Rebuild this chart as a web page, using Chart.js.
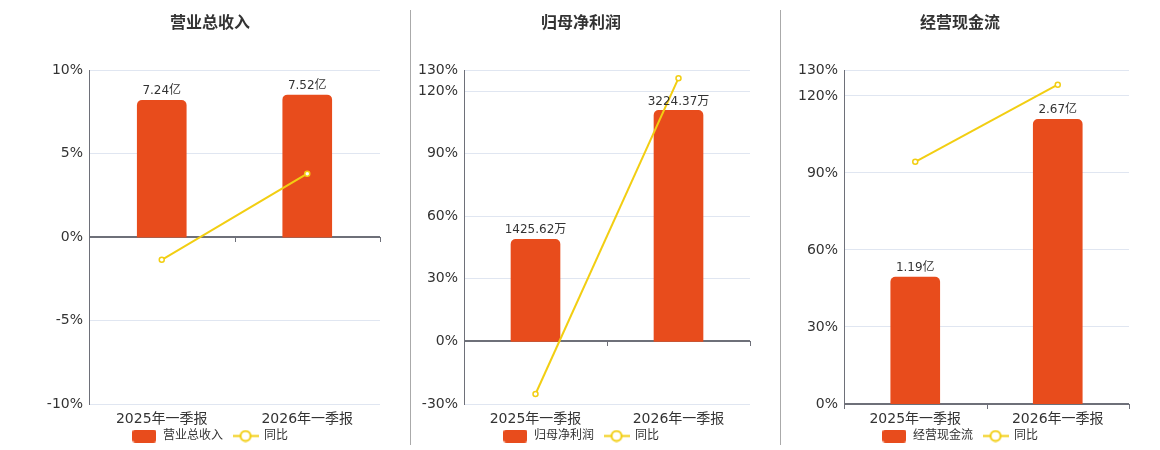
<!DOCTYPE html>
<html><head><meta charset="utf-8">
<script src="https://cdn.jsdelivr.net/npm/chart.js@4.4.0/dist/chart.umd.min.js"></script>
<style>
html,body{margin:0;padding:0;width:1160px;height:450px;overflow:hidden;background:#fff;}
canvas{position:absolute;top:0;}
.sep{position:absolute;top:10px;width:1px;height:435px;background:#aaa;}
</style></head><body>
<canvas id="c1" width="420" height="462" style="left:0px;width:420px;height:462px"></canvas>
<canvas id="c2" width="348" height="462" style="left:412px;width:348px;height:462px"></canvas>
<canvas id="c3" width="358" height="462" style="left:781px;width:358px;height:462px"></canvas>
<div class="sep" style="left:410px"></div>
<div class="sep" style="left:780px"></div>
<script>
const categories = ['2025年一季报', '2026年一季报'];

const revenueValues = [7.24, 7.52];          // 亿
const revenueLabels = ['7.24亿', '7.52亿'];
const revenueYoY = [-1.36, 3.8];             // %
const revenueTicks = [-10, -5, 0, 5, 10];

const profitValues = [1425.62, 3224.37];     // 万
const profitLabels = ['1425.62万', '3224.37万'];
const profitYoY = [-25.2, 126.17];
const profitTicks = [-30, 0, 30, 60, 90, 120, 130];

const cashValues = [1.19, 2.67];             // 亿
const cashLabels = ['1.19亿', '2.67亿'];
const cashYoY = [94.3, 124.37];
const cashTicks = [0, 30, 60, 90, 120, 130];

const FONT = '"DejaVu Sans", "Noto Sans CJK SC", sans-serif';
const BAR = '#E84C1C';
const LINE = '#F2CE12';
const AXIS = '#6E7079';
const GRID = '#E0E6F1';
const TEXT = '#333333';
Chart.defaults.font.family = FONT;

function barIcon() {
  const c = document.createElement('canvas'); c.width = 24; c.height = 13;
  const x = c.getContext('2d'); x.fillStyle = BAR;
  x.beginPath(); x.roundRect(0, 0, 24, 13, 3); x.fill();
  return c;
}
function lineIcon() {
  const c = document.createElement('canvas'); c.width = 26; c.height = 13;
  const x = c.getContext('2d');
  x.strokeStyle = LINE; x.lineWidth = 2;
  x.beginPath(); x.moveTo(0, 6.5); x.lineTo(26, 6.5); x.stroke();
  x.beginPath(); x.arc(13, 6.5, 5, 0, Math.PI * 2); x.fillStyle = '#fff'; x.fill(); x.stroke();
  return c;
}
const ICON_BAR = barIcon(), ICON_LINE = lineIcon();

const extrasPlugin = {
  id: 'extras',
  afterLayout(chart) {
    // place legend row so its items are centred at y = 436
    const lg = chart.legend;
    const h = lg.bottom - lg.top;
    lg.top = 420; lg.bottom = 420 + h;
  },
  afterDatasetsDraw(chart) {
    const ctx = chart.ctx;
    const meta = chart.getDatasetMeta(0);
    const labels = chart.data.datasets[0].valueLabels;
    ctx.save();
    ctx.font = '12px ' + FONT;
    ctx.fillStyle = TEXT;
    ctx.textAlign = 'center';
    ctx.textBaseline = 'bottom';
    meta.data.forEach((el, i) => {
      ctx.fillText(labels[i], el.x, el.y - 3);
    });
    const ys = chart.scales.y;
    const y0 = Math.round(ys.getPixelForValue(0));
    const ca = chart.chartArea;
    const n = chart.data.labels.length;
    ctx.strokeStyle = AXIS; ctx.lineWidth = 1;
    for (let i = 0; i <= n; i++) {
      const px = Math.round(ca.left + (ca.right - ca.left) * i / n) + 0.5;
      ctx.beginPath(); ctx.moveTo(px, y0); ctx.lineTo(px, y0 + 5); ctx.stroke();
    }
    ctx.restore();
  }
};

function makeChart(id, title, barName, values, valueLabels, yoy, ticks, barMin, barMax, yW, padLeft, padRight) {
  new Chart(document.getElementById(id), {
    data: {
      labels: categories,
      datasets: [
        {
          type: 'bar', label: barName, data: values, valueLabels: valueLabels,
          yAxisID: 'y1', backgroundColor: BAR, barThickness: 49,
          borderRadius: 5, borderSkipped: 'start', order: 2
        },
        {
          type: 'line', label: '同比', data: yoy, yAxisID: 'y',
          borderColor: LINE, borderWidth: 2, pointRadius: 2.5, pointBorderWidth: 1.5,
          pointBackgroundColor: '#fff', pointBorderColor: LINE, order: 1, tension: 0
        }
      ]
    },
    options: {
      responsive: false, animation: false, devicePixelRatio: 1,
      layout: { padding: { left: padLeft, right: padRight, top: 0, bottom: 0 } },
      plugins: {
        tooltip: { enabled: false },
        title: {
          display: true, text: title, color: TEXT,
          font: { size: 16, weight: 'bold', family: FONT, lineHeight: 1.2 },
          padding: { top: 14, bottom: 37 }
        },
        legend: {
          position: 'bottom',
          labels: {
            usePointStyle: true, pointStyleWidth: 25, padding: 10,
            font: { size: 12, family: FONT }, color: TEXT,
            generateLabels: () => [
              { text: barName, pointStyle: ICON_BAR, fillStyle: BAR, strokeStyle: BAR, lineWidth: 0, datasetIndex: 0, fontColor: TEXT },
              { text: '同比', pointStyle: ICON_LINE, fillStyle: LINE, strokeStyle: LINE, lineWidth: 0, datasetIndex: 1, fontColor: TEXT }
            ]
          }
        }
      },
      scales: {
        x: {
          grid: { display: false, drawTicks: false },
          border: { display: false },
          ticks: { color: TEXT, font: { size: 14, family: FONT }, padding: 7, maxRotation: 0 },
          afterFit(s) { s.height = 26; }
        },
        y: {
          position: 'left',
          min: ticks[0], max: ticks[ticks.length - 1],
          afterBuildTicks(s) { s.ticks = ticks.map(v => ({ value: v })); },
          grid: {
            drawTicks: false,
            color: c => (c.tick && c.tick.value === 0) ? AXIS : GRID,
            lineWidth: c => (c.tick && c.tick.value === 0) ? 2 : 1
          },
          border: { display: true, color: AXIS, width: 1 },
          ticks: { color: TEXT, font: { size: 14, family: FONT }, padding: 6, callback: v => v + '%' },
          afterFit(s) { s.width = yW; }
        },
        y1: { display: false, min: barMin, max: barMax }
      }
    },
    plugins: [extrasPlugin]
  });
}

makeChart('c1', '营业总收入', '营业总收入', revenueValues, revenueLabels, revenueYoY, revenueTicks, -8.83, 8.83, 49, 40, 40);
makeChart('c2', '归母净利润', '归母净利润', profitValues, profitLabels, profitYoY, profitTicks, -873.7, 3786, 52, 0, 10);
makeChart('c3', '经营现金流', '经营现金流', cashValues, cashLabels, cashYoY, cashTicks, 0, 3.13, 53, 10, 10);
</script>
</body></html>
